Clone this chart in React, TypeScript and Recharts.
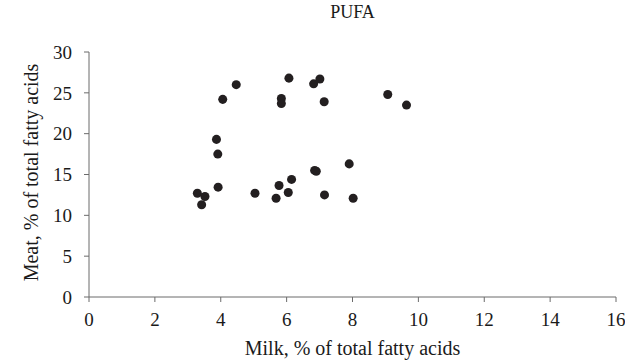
import { ScatterChart, Scatter, XAxis, YAxis, ZAxis, Label } from "recharts";

const milk = [
  4.06, 4.47, 6.07, 5.84, 5.84, 6.82, 7.01, 7.14, 9.07, 9.64,
  3.87, 3.91, 7.9,
  6.85, 6.9, 6.15, 5.77, 6.05, 5.68, 5.04, 3.92, 3.29, 3.52, 3.42, 7.15, 8.02,
];
const meat = [
  24.2, 26.0, 26.8, 24.3, 23.7, 26.1, 26.7, 23.9, 24.8, 23.5,
  19.3, 17.5, 16.3,
  15.5, 15.4, 14.4, 13.65, 12.8, 12.1, 12.7, 13.45, 12.7, 12.3, 11.3, 12.5, 12.1,
];
const xTicks = [0, 2, 4, 6, 8, 10, 12, 14, 16];
const yTicks = [0, 5, 10, 15, 20, 25, 30];

const points = milk.map((m, i) => ({ x: m, y: meat[i] }));

const font = "'Liberation Serif', 'Times New Roman', serif";
const axisColor = "#6b6b6b";

function XTitle(props: any) {
  const vb = props.viewBox;
  return (
    <text x={vb.x + vb.width / 2} y={355} textAnchor="middle" fontFamily={font} fontSize={20} fill="#1a1a1a">
      Milk, % of total fatty acids
    </text>
  );
}

function YTitle(props: any) {
  const vb = props.viewBox;
  const cy = vb.y + vb.height / 2 - 2;
  return (
    <text
      x={31}
      y={cy}
      transform={`rotate(-90, 31, ${cy})`}
      textAnchor="middle"
      dominantBaseline="central"
      fontFamily={font}
      fontSize={20}
      fill="#1a1a1a"
    >
      Meat, % of total fatty acids
    </text>
  );
}

export default function App() {
  return (
    <div style={{ position: "absolute", left: 0, top: 0, width: 625, height: 363, background: "#fff" }}>
      <div
        style={{
          position: "absolute",
          left: 89,
          width: 527,
          top: 2,
          textAlign: "center",
          fontFamily: font,
          fontSize: 18,
          color: "#1a1a1a",
        }}
      >
        PUFA
      </div>
      <ScatterChart width={625} height={363} margin={{ top: 52, right: 9, bottom: 0, left: 0 }}>
        <XAxis
          type="number"
          dataKey="x"
          domain={[0, 16]}
          ticks={xTicks}
          height={66}
          stroke={axisColor}
          tickSize={5}
          tickMargin={11}
          tick={{ fill: "#1a1a1a", fontSize: 19, fontFamily: font }}
          tickLine={{ stroke: axisColor }}
          interval={0}
        >
          <Label content={<XTitle />} />
        </XAxis>
        <YAxis
          type="number"
          dataKey="y"
          domain={[0, 30]}
          ticks={yTicks}
          width={89}
          stroke={axisColor}
          tickSize={5}
          tickMargin={12}
          tick={{ fill: "#1a1a1a", fontSize: 19, fontFamily: font }}
          tickLine={{ stroke: axisColor }}
          interval={0}
        >
          <Label content={<YTitle />} />
        </YAxis>
        <ZAxis range={[80, 80]} />
        <Scatter data={points} fill="#231f20" isAnimationActive={false} />
      </ScatterChart>
    </div>
  );
}
